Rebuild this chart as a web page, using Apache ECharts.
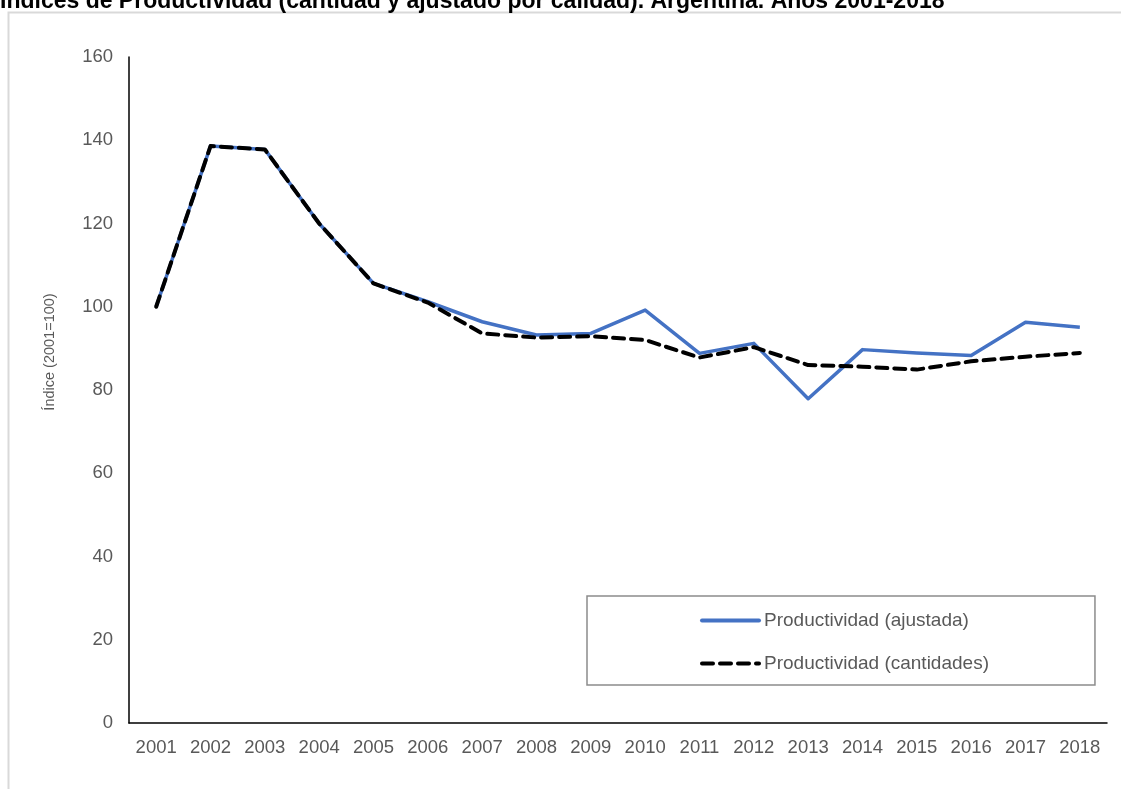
<!DOCTYPE html>
<html>
<head>
<meta charset="utf-8">
<script src="https://cdn.jsdelivr.net/npm/echarts@6/dist/echarts.min.js"></script>
<style>
  html, body { margin: 0; padding: 0; background: #ffffff; }
  #chart { width: 1121px; height: 789px; }
</style>
</head>
<body>
<div id="chart"></div>
<script>
// Años del período
const years = ['2001','2002','2003','2004','2005','2006','2007','2008','2009','2010',
               '2011','2012','2013','2014','2015','2016','2017','2018'];

// Índice de productividad ajustado por calidad (2001=100)
const productividadAjustada = [100, 138.6, 137.8, 120.0, 105.6, 101.2, 96.4, 93.2, 93.6, 99.2,
                               88.8, 91.2, 77.9, 89.7, 88.9, 88.3, 96.3, 95.1];

// Índice de productividad en cantidades (2001=100)
const productividadCantidades = [100, 138.6, 137.8, 120.0, 105.6, 101.0, 93.6, 92.6, 92.9, 92.0,
                                 87.8, 90.3, 86.0, 85.6, 84.9, 86.9, 88.0, 88.9];

const seriesNames = ['Productividad (ajustada)', 'Productividad (cantidades)'];
const titleText = 'Índices de Productividad (cantidad y ajustado por calidad). Argentina. Años 2001-2018';
const yAxisName = 'Índice (2001=100)';

const FONT = 'Liberation Sans, Arial, sans-serif';
const GREY_TEXT = '#595959';

const chart = echarts.init(document.getElementById('chart'), null, { renderer: 'canvas' });

chart.setOption({
  animation: false,
  backgroundColor: '#ffffff',
  graphic: [
    {
      type: 'rect',
      shape: { x: 8.5, y: 12.5, width: 1200, height: 900 },
      style: { fill: 'none', stroke: '#d9d9d9', lineWidth: 2 },
      silent: true, z: 0
    },
    {
      // título, recortado por el borde superior del lienzo
      type: 'text',
      x: 0, y: 13,
      style: {
        text: titleText,
        font: 'bold 23px ' + FONT,
        fill: '#000000',
        verticalAlign: 'bottom',
        align: 'left'
      },
      silent: true, z: 10
    },
    {
      type: 'text',
      x: 50, y: 352,
      rotation: Math.PI / 2,
      style: {
        text: yAxisName,
        font: '14.5px ' + FONT,
        fill: GREY_TEXT,
        verticalAlign: 'middle',
        align: 'center'
      },
      silent: true, z: 10
    }
  ],
  grid: { left: 129, right: 14, top: 57, bottom: 66, containLabel: false },
  legend: {
    orient: 'vertical',
    left: 587, top: 596,
    padding: [15, 106, 12, 113],
    itemGap: 24,
    itemWidth: 57,
    itemHeight: 14,
    itemStyle: { opacity: 0 },
    lineStyle: { width: 4, cap: 'round' },
    borderColor: '#8c8c8c',
    borderWidth: 1.5,
    textStyle: { color: GREY_TEXT, fontSize: 19, fontFamily: FONT, padding: [0, 0, 0, 0] },
    data: seriesNames
  },
  xAxis: {
    type: 'category',
    data: years,
    boundaryGap: true,
    axisLine: { lineStyle: { color: '#000000', width: 1.5 } },
    axisTick: { show: false },
    axisLabel: { color: GREY_TEXT, fontSize: 18.5, fontFamily: FONT, margin: 15 },
    splitLine: { show: false }
  },
  yAxis: {
    type: 'value',
    min: 0, max: 160, interval: 20,
    axisLine: { show: true, lineStyle: { color: '#000000', width: 1.5 } },
    axisTick: { show: false },
    axisLabel: { color: GREY_TEXT, fontSize: 18.5, fontFamily: FONT, margin: 16 },
    splitLine: { show: false }
  },
  series: [
    {
      name: seriesNames[0],
      type: 'line',
      data: productividadAjustada,
      symbol: 'none',
      lineStyle: { color: '#4472c4', width: 3.5, join: 'round' },
      itemStyle: { color: '#4472c4' },
      z: 2
    },
    {
      name: seriesNames[1],
      type: 'line',
      data: productividadCantidades,
      symbol: 'none',
      lineStyle: { color: '#000000', width: 4, type: [11, 7], cap: 'round', join: 'round' },
      itemStyle: { color: '#000000' },
      z: 3
    }
  ]
});
</script>
</body>
</html>
